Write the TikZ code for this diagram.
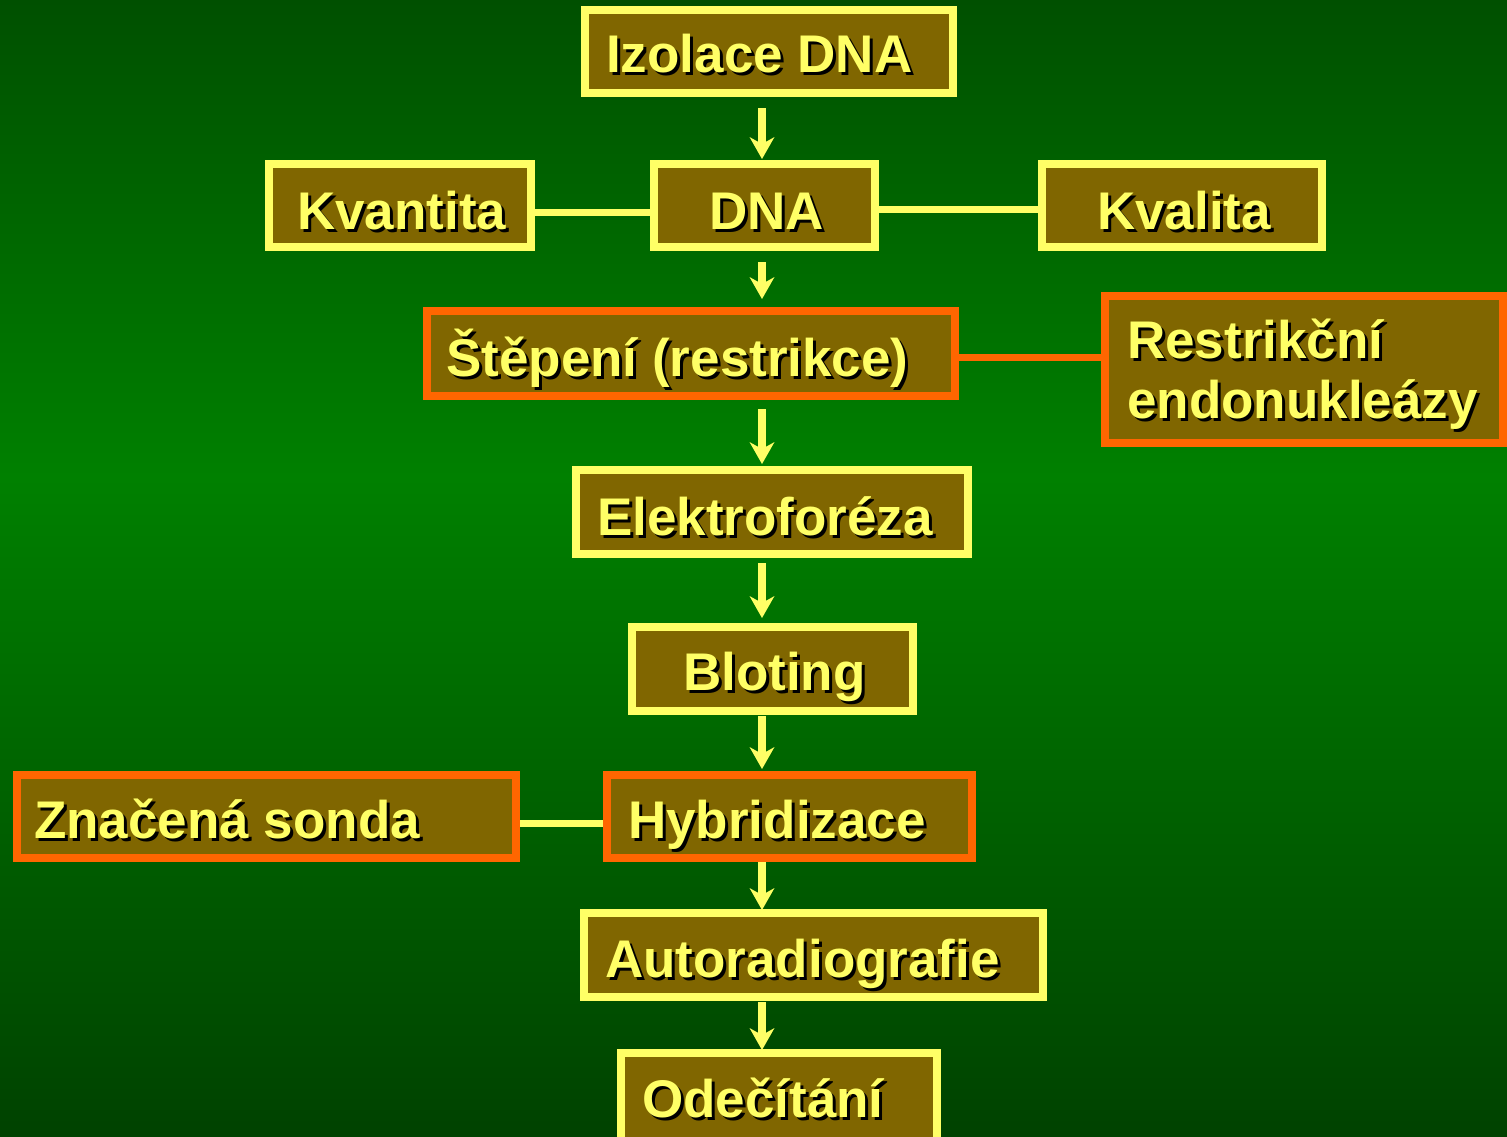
\documentclass[tikz,border=0pt]{standalone}
\usepackage{fontspec}
\setmainfont{Liberation Sans}
\usetikzlibrary{arrows.meta}

\definecolor{bgtop}{RGB}{0,80,0}
\definecolor{bgmid}{RGB}{0,128,0}
\definecolor{bgbot}{RGB}{0,66,0}
\definecolor{boxfill}{RGB}{128,102,0}
\definecolor{lemon}{RGB}{255,255,102}
\definecolor{flame}{RGB}{255,102,0}

\pgfdeclarelayer{backdrop}
\pgfdeclarelayer{links}
\pgfsetlayers{backdrop,links,main}

% dark green at top and bottom, brighter band a little above the middle
\pgfdeclareverticalshading{greenfade}{100bp}{color(0bp)=(bgbot); color(25bp)=(bgbot); color(54bp)=(bgmid); color(75bp)=(bgtop); color(100bp)=(bgtop)}

% label with a black drop shadow: name, x, y, text
\newcommand\shadowlabel[4]{%
  \node[lblshadow] at (#2+3,#3+3) {#4};
  \node[lbl] (#1) at (#2,#3) {#4};}

\begin{document}
\begin{tikzpicture}[x=1pt,y=-1pt,
  box/.style={rectangle, draw=lemon, fill=boxfill, line width=8pt, inner sep=0pt, outer sep=0pt},
  obox/.style={box, draw=flame},
  lbl/.style={anchor=base west, inner sep=0pt, text=lemon,
    font=\fontsize{53}{60}\selectfont\bfseries},
  lblshadow/.style={lbl, text=black},
  flow/.style={draw=lemon, line width=8.5pt,
    -{Stealth[length=22pt,width=25pt,inset=7pt,line width=0pt]}},
  tie/.style={draw=lemon, line width=7pt},
  otie/.style={tie, draw=flame}]

\useasboundingbox (0,0) rectangle (1507,1136);
\begin{pgfonlayer}{backdrop}
  \shade[shading=greenfade] (0,0) rectangle (1507,1136);
\end{pgfonlayer}

% boxes
\node[box,  minimum width=368pt, minimum height=83pt]  (izo)  at (769,51.5)    {};
\node[box,  minimum width=262pt, minimum height=83pt]  (kvan) at (400,205.5)   {};
\node[box,  minimum width=221pt, minimum height=83pt]  (dna)  at (764.5,205.5) {};
\node[box,  minimum width=280pt, minimum height=83pt]  (kval) at (1182,205.5)  {};
\node[obox, minimum width=528pt, minimum height=85pt]  (step) at (691,353.5)   {};
\node[obox, minimum width=398pt, minimum height=147pt] (rest) at (1304,369.5)  {};
\node[box,  minimum width=392pt, minimum height=84pt]  (elek) at (772,512)     {};
\node[box,  minimum width=281pt, minimum height=84pt]  (blot) at (772.5,669)   {};
\node[obox, minimum width=499pt, minimum height=83pt]  (sond) at (266.5,816.5) {};
\node[obox, minimum width=365pt, minimum height=83pt]  (hyb)  at (789.5,816.5) {};
\node[box,  minimum width=459pt, minimum height=84pt]  (auto) at (813.5,955)   {};
\node[box,  minimum width=316pt, minimum height=93pt]  (ode)  at (779,1099.5)  {};

% labels
\shadowlabel{tizo}{606}{72}{Izolace DNA}
\shadowlabel{tkvan}{297}{229}{Kvantita}
\shadowlabel{tdna}{709}{229}{DNA}
\shadowlabel{tkval}{1097}{229}{Kvalita}
\shadowlabel{tstep}{446}{376}{Štěpení (restrikce)}
\shadowlabel{trestA}{1127}{358}{Restrikční}
\shadowlabel{trestB}{1127}{418}{endonukleázy}
\shadowlabel{telek}{597}{535}{Elektroforéza}
\shadowlabel{tblot}{683}{690}{Bloting}
\shadowlabel{tsond}{34}{838}{Značená sonda}
\shadowlabel{thyb}{628}{838}{Hybridizace}
\shadowlabel{tauto}{605}{977}{Autoradiografie}
\shadowlabel{tode}{642}{1117}{Odečítání}

% connectors
\coordinate (spine) at (762,0);
\begin{pgfonlayer}{links}
  \draw[flow, shorten <=15pt, shorten >=5pt]  (izo.south -| spine)  -- (dna.north -| spine);
  \draw[flow, shorten <=15pt, shorten >=12pt] (dna.south -| spine)  -- (step.north -| spine);
  \draw[flow, shorten <=13pt, shorten >=6pt]  (step.south -| spine) -- (elek.north -| spine);
  \draw[flow, shorten <=9pt,  shorten >=9pt]  (elek.south -| spine) -- (blot.north -| spine);
  \draw[flow, shorten <=5pt,  shorten >=6pt]  (blot.south -| spine) -- (hyb.north -| spine);
  \draw[flow, shorten <=3pt,  shorten >=3pt]  (hyb.south -| spine)  -- (auto.north -| spine);
  \draw[flow, shorten <=5pt,  shorten >=3pt]  (auto.south -| spine) -- (ode.north -| spine);

  \draw[tie]  ([yshift=-6.5pt]kvan.east) -- ([yshift=-6.5pt]kvan.east -| dna.west);
  \draw[tie]  ([yshift=-3.5pt]dna.east)  -- ([yshift=-3.5pt]dna.east -| kval.west);
  \draw[otie] ([yshift=-3.5pt]step.east) -- ([yshift=-3.5pt]step.east -| rest.west);
  \draw[tie]  ([yshift=-6.5pt]sond.east) -- ([yshift=-6.5pt]sond.east -| hyb.west);
\end{pgfonlayer}
\end{tikzpicture}
\end{document}
